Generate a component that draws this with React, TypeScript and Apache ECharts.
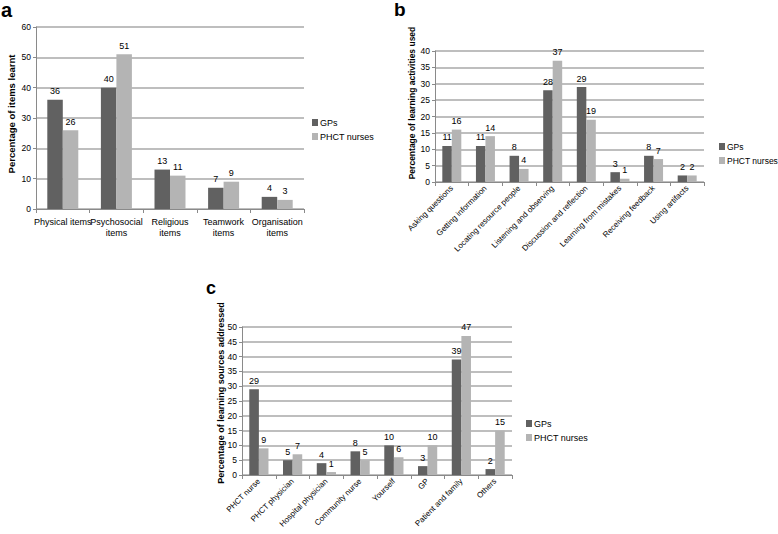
import React, { useEffect, useRef } from "react";
import * as echarts from "echarts";

const seriesNames = ["GPs", "PHCT nurses"];

const catsA = ["Physical items", "Psychosocial\nitems", "Religious\nitems", "Teamwork\nitems", "Organisation\nitems"];
const gpA = [36, 40, 13, 7, 4];
const nurseA = [26, 51, 11, 9, 3];

const catsB = [
  "Asking questions",
  "Getting information",
  "Locating resource people",
  "Listening and observing",
  "Discussion and reflection",
  "Learning from mistakes",
  "Receiving feedback",
  "Using artifacts",
];
const gpB = [11, 11, 8, 28, 29, 3, 8, 2];
const nurseB = [16, 14, 4, 37, 19, 1, 7, 2];

const catsC = [
  "PHCT nurse",
  "PHCT physician",
  "Hospital physician",
  "Community nurse",
  "Yourself",
  "GP",
  "Patient and family",
  "Others",
];
const gpC = [29, 5, 4, 8, 10, 3, 39, 2];
const nurseC = [9, 7, 1, 5, 6, 10, 47, 15];

const yNames = [
  "Percentage of items learnt",
  "Percentage of learning activities used",
  "Percentage of learning sources addressed",
];
const panelLetters = ["a", "b", "c"];

const FONT = "'Liberation Sans', Arial, Helvetica, sans-serif";
const DARK = "#616161";
const LIGHT = "#b4b4b4";

export default function App() {
  const ref = useRef<HTMLDivElement>(null);

  useEffect(() => {
    document.body.style.margin = "0";
    if (!ref.current) return;
    const chart = echarts.init(ref.current, undefined, { renderer: "svg" });

    const grids = [
      { left: 36, top: 27, width: 268, height: 182 },
      { left: 435, top: 51, width: 269, height: 131 },
      { left: 242, top: 327, width: 270, height: 148 },
    ];
    const yMax = [60, 40, 50];
    const yInt = [10, 5, 5];
    const cats = [catsA, catsB, catsC];
    const gps = [gpA, gpB, gpC];
    const nurses = [nurseA, nurseB, nurseC];
    const barW = [15.5, 9.5, 9.6];

    const xAxis = cats.map((c, i) => ({
      type: "category",
      gridIndex: i,
      data: c,
      axisLine: { lineStyle: { color: "#8a8a8a", width: 1 } },
      axisTick: { show: true, length: 4, lineStyle: { color: "#8a8a8a" } },
      axisLabel: {
        interval: 0,
        color: "#000",
        fontFamily: FONT,
        fontSize: i === 0 ? 9 : 8,
        rotate: i === 0 ? 0 : 45,
        margin: i === 0 ? 7 : 5,
        lineHeight: 11,
      },
    }));

    const yAxis = yMax.map((m, i) => ({
      type: "value",
      gridIndex: i,
      min: 0,
      max: m,
      interval: yInt[i],
      axisLine: { show: true, lineStyle: { color: "#8a8a8a", width: 1 } },
      axisTick: { show: true, length: 3, lineStyle: { color: "#8a8a8a" } },
      axisLabel: { color: "#000", fontFamily: FONT, fontSize: 8.5, margin: 5 },
      splitLine: { lineStyle: { color: "#a9a9a9", width: 1.5 } },
    }));

    const series: any[] = [];
    for (let i = 0; i < 3; i++) {
      [gps[i], nurses[i]].forEach((d, k) => {
        series.push({
          type: "bar",
          name: seriesNames[k],
          xAxisIndex: i,
          yAxisIndex: i,
          data: d,
          barWidth: barW[i],
          barGap: "0%",
          itemStyle: { color: k === 0 ? DARK : LIGHT },
          label: {
            show: true,
            position: "top",
            distance: 4,
            color: "#000",
            fontFamily: FONT,
            fontSize: 9,
          },
        });
      });
    }

    const legendPos = [
      { left: 307, top: 113, size: 9 },
      { left: 714, top: 137, size: 8.5 },
      { left: 521, top: 414, size: 9 },
    ];
    const legend = legendPos.map((p) => ({
      left: p.left,
      top: p.top,
      orient: "vertical",
      data: seriesNames,
      itemWidth: 6,
      itemHeight: 7,
      itemGap: 5,
      icon: "rect",
      selectedMode: false,
      textStyle: { color: "#000", fontFamily: FONT, fontSize: p.size, padding: [0, 0, 0, -3] },
    }));

    const yNamePos = [
      { x: 11, y: 114, size: 9.5 },
      { x: 412, y: 103, size: 8.5 },
      { x: 221, y: 393, size: 9 },
    ];
    const letterPos = [
      { x: 1, y: 0, size: 20 },
      { x: 394, y: 0, size: 19 },
      { x: 206, y: 279, size: 18 },
    ];

    const graphic: any[] = [];
    yNamePos.forEach((p, i) => {
      graphic.push({
        type: "text",
        x: p.x,
        y: p.y,
        rotation: Math.PI / 2,
        style: {
          text: yNames[i],
          fill: "#000",
          font: `bold ${p.size}px ${FONT}`,
          textAlign: "center",
          textVerticalAlign: "middle",
        },
      });
    });
    letterPos.forEach((p, i) => {
      graphic.push({
        type: "text",
        x: p.x,
        y: p.y,
        style: {
          text: panelLetters[i],
          fill: "#000",
          font: `bold ${p.size}px ${FONT}`,
          textAlign: "left",
          textVerticalAlign: "top",
        },
      });
    });

    chart.setOption({
      animation: false,
      backgroundColor: "#fff",
      grid: grids,
      xAxis,
      yAxis,
      series,
      legend,
      graphic,
    } as any);

    return () => chart.dispose();
  }, []);

  return <div ref={ref} style={{ width: 778, height: 534 }} />;
}
